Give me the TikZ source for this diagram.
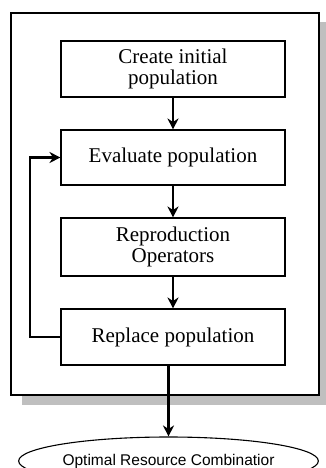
\documentclass[tikz,border=0pt]{standalone}
\usepackage{fontspec}
\setmainfont{Liberation Serif}
\newfontfamily\arialfont{Liberation Sans}
\usetikzlibrary{arrows.meta,shapes.geometric}

\tikzset{
  stepbox/.style={draw, line width=1.1pt, minimum width=224pt, align=center,
    font=\fontsize{21}{21}\selectfont, inner sep=0pt},
  flow/.style={-{Stealth[length=11pt,width=11pt]}, line width=2.5pt},
}

\begin{document}
\begin{tikzpicture}[x=1pt,y=-1pt]
\useasboundingbox (0,0) rectangle (326,468);

% frame with its shadow
\fill[black!25](22,22) rectangle (332,405);
\draw[fill=white, line width=1.1pt](11,13) rectangle (319,395);

\node[stepbox, minimum height=56pt](create) at (173,69) {Create initial\\population};
\node[stepbox, minimum height=55pt](evaluate) at (173,157.5) {Evaluate population};
\node[stepbox, minimum height=58pt](reproduce) at (173,247) {Reproduction\\Operators};
\node[stepbox, minimum height=56pt](replace) at (173,337) {Replace population};

\node[draw, ellipse, line width=1.1pt, minimum width=247pt, minimum height=48pt, inner sep=0pt,
  font=\arialfont\fontsize{15.5}{17}\selectfont](result) at (168.5,461) {Optimal Resource Combinatior};

\draw[flow](create)--(evaluate);
\draw[flow](evaluate)--(reproduce);
\draw[flow](reproduce)--(replace);
\draw[flow](replace.south -| result.north)--(result.north);

% loop back
\coordinate (back) at (30,0);
\draw[flow](replace.west)-|(back |- evaluate.west)--(evaluate.west);

\end{tikzpicture}
\end{document}
